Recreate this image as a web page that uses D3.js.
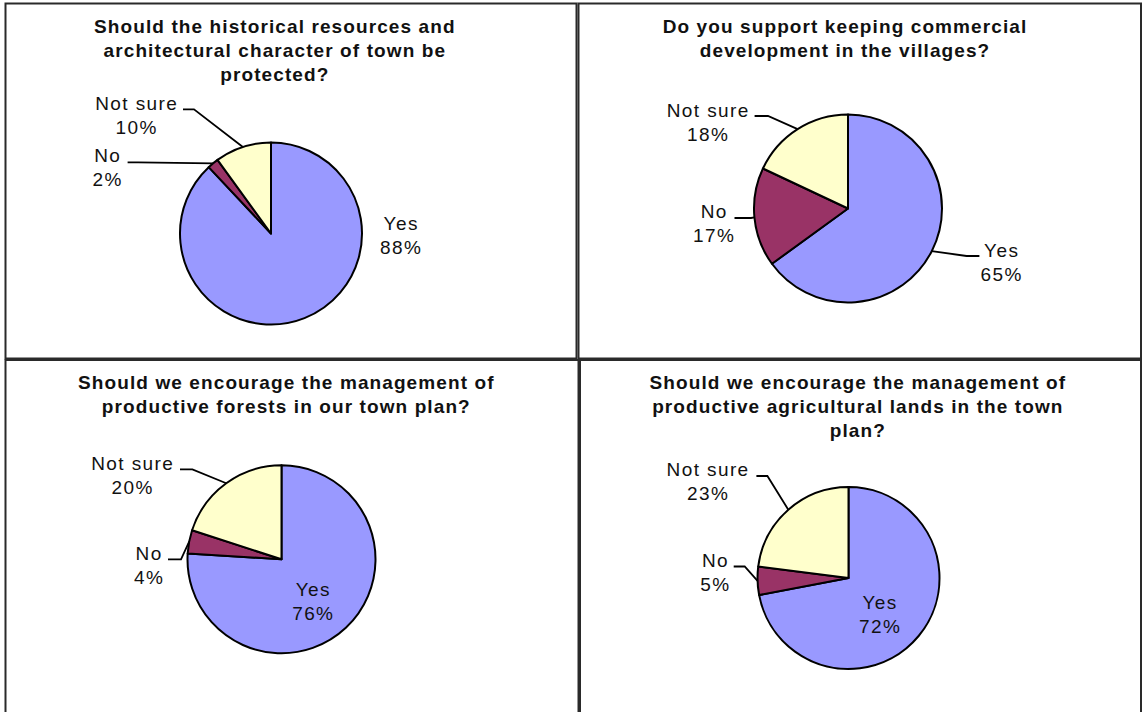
<!DOCTYPE html>
<html>
<head>
<meta charset="utf-8">
<script src="https://cdn.jsdelivr.net/npm/d3@7"></script>
<style>
  html, body { margin: 0; padding: 0; background: #ffffff; }
  svg { display: block; }
  .title { font-family: Arial, "Liberation Sans", sans-serif; font-weight: bold; font-size: 19px; letter-spacing: 1.1px; fill: #111; }
  .label { font-family: Arial, "Liberation Sans", sans-serif; font-size: 19px; letter-spacing: 1.4px; fill: #111; }
</style>
</head>
<body>
<svg id="chart" width="1143" height="712"></svg>
<script>
// Survey questions (one entry per pie, each split into its printed lines)
const questions = [
  ["Should the historical resources and", "architectural character of town be", "protected?"],
  ["Do you support keeping commercial", "development in the villages?"],
  ["Should we encourage the management of", "productive forests in our town plan?"],
  ["Should we encourage the management of", "productive agricultural lands in the town", "plan?"]
];

// Answer categories and their shares (%) for each question
const categories = ["Yes", "No", "Not sure"];
const yesValues     = [88, 65, 76, 72];
const noValues      = [2, 17, 4, 5];
const notSureValues = [10, 18, 20, 23];
const sliceColors   = ["#9999FF", "#993366", "#FFFFCC"];

// Panel frames and pie placement
const panels = [
  { x0: 5.5, y0: 3.5, x1: 576.5, y1: 358.5, cx: 271, cy: 233.5, r: 91, tx: 274.3, ty: 33.3 },
  { x0: 578.5, y0: 3.5, x1: 1141, y1: 358.5, cx: 848, cy: 208.5, r: 94, tx: 844.5, ty: 33.3 },
  { x0: 5.5, y0: 360, x1: 578.5, y1: 716, cx: 281.5, cy: 559.3, r: 94, tx: 285.8, ty: 389.3 },
  { x0: 580, y0: 360, x1: 1141, y1: 716, cx: 848.5, cy: 578, r: 91, tx: 857.3, ty: 389.3 }
];

// Label placement per panel, in category order; tick = short horizontal stub [xFrom, xElbow, y]
const labelLayout = [
  [ { x: 400.5, y: 230 },
    { x: 107, y: 161.7, tick: [127.6, 138, 162.3] },
    { x: 136, y: 110, tick: [183, 194, 109.3] } ],
  [ { x: 1001, y: 256.7, tick: [979.4, 966.6, 256] },
    { x: 713.5, y: 218.3, tick: [734.5, 751, 218] },
    { x: 707.5, y: 116.7, tick: [754.6, 768, 116] } ],
  [ { x: 312.6, y: 596 },
    { x: 148.4, y: 560, tick: [168, 181, 559.3] },
    { x: 132, y: 470, tick: [180, 192.4, 469.3] } ],
  [ { x: 879.4, y: 609.3 },
    { x: 714.8, y: 566.7, tick: [733.7, 744.7, 566.5] },
    { x: 707.4, y: 476, tick: [756.4, 767.4, 476] } ]
];

const svg = d3.select("#chart");
const lineGap = 24;

// Table grid frames
const frames = svg.append("g").attr("fill", "none").attr("stroke", "#2a2a2a").attr("stroke-width", 2);
panels.forEach(p => {
  frames.append("rect")
    .attr("x", p.x0).attr("y", p.y0)
    .attr("width", p.x1 - p.x0).attr("height", p.y1 - p.y0);
});

const pie = d3.pie().sort(null).value(d => d).startAngle(0).endAngle(2 * Math.PI);

panels.forEach((p, i) => {
  const values = [yesValues[i], noValues[i], notSureValues[i]];
  const arcs = pie(values);
  const arc = d3.arc().innerRadius(0).outerRadius(p.r);
  const g = svg.append("g").attr("transform", `translate(${p.cx},${p.cy})`);

  g.selectAll("path.slice")
    .data(arcs)
    .join("path")
    .attr("class", "slice")
    .attr("d", arc)
    .attr("fill", (d, k) => sliceColors[k])
    .attr("stroke", "#000")
    .attr("stroke-width", 2)
    .attr("stroke-linejoin", "round");

  // Title
  const title = svg.append("text").attr("class", "title").attr("text-anchor", "middle");
  questions[i].forEach((line, k) => {
    title.append("tspan")
      .attr("x", p.tx).attr("dx", 0.55)
      .attr("y", p.ty + k * lineGap)
      .text(line);
  });

  // Labels with leader lines
  arcs.forEach((a, k) => {
    const lay = labelLayout[i][k];
    if (lay.tick) {
      const mid = (a.startAngle + a.endAngle) / 2;
      const edge = [p.cx + p.r * Math.sin(mid), p.cy - p.r * Math.cos(mid)];
      const pts = [[lay.tick[0], lay.tick[2]], [lay.tick[1], lay.tick[2]], edge];
      svg.append("path")
        .attr("d", d3.line()(pts))
        .attr("fill", "none")
        .attr("stroke", "#000")
        .attr("stroke-width", 1.8);
    }
    const t = svg.append("text").attr("class", "label").attr("text-anchor", "middle");
    [categories[k], a.data + "%"].forEach((line, j) => {
      t.append("tspan")
        .attr("x", lay.x).attr("dx", 0.7)
        .attr("y", lay.y + j * lineGap)
        .text(line);
    });
  });
});
</script>
</body>
</html>
